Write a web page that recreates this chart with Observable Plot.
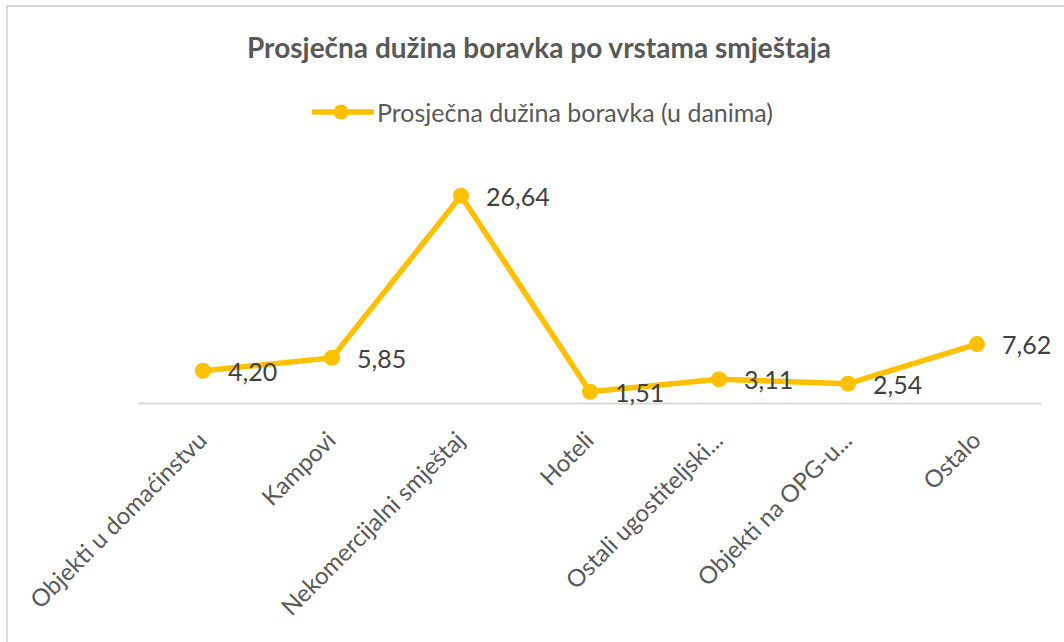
<!DOCTYPE html>
<html>
<head>
<meta charset="utf-8">
<script src="https://cdn.jsdelivr.net/npm/d3@7"></script>
<script src="https://cdn.jsdelivr.net/npm/@observablehq/plot@0.6"></script>
<style>
  html, body { margin: 0; padding: 0; background: #fff; }
  body { width: 1064px; height: 642px; position: relative; overflow: hidden; font-family: Lato, sans-serif; }
  #frame { position: absolute; left: 6px; top: 5px; width: 1100px; height: 700px; border-top: 2px solid #d9d9d9; border-left: 2px solid #d9d9d9; }
  #title { position: absolute; left: 0; width: 1078px; top: 30px; text-align: center; font-size: 28px; font-weight: bold; color: #595959; line-height: 34px; }
  #legend { position: absolute; left: 312px; top: 96px; display: flex; align-items: center; font-size: 25px; color: #595959; line-height: 32px; }
  #legend svg { margin-right: 3px; }
  #chart { position: absolute; left: 0; top: 140px; }
</style>
</head>
<body>
<div id="frame"></div>
<div id="title">Prosječna dužina boravka po vrstama smještaja</div>
<div id="legend"><svg width="62" height="20"><line x1="2" y1="10" x2="60" y2="10" stroke="#FFC000" stroke-width="5.5" stroke-linecap="round"/><circle cx="29" cy="10" r="7.5" fill="#FFC000"/></svg><span>Prosječna dužina boravka (u danima)</span></div>
<div id="chart"></div>
<script>
const categories = ["Objekti u domaćinstvu", "Kampovi", "Nekomercijalni smještaj", "Hoteli", "Ostali ugostiteljski...", "Objekti na OPG-u...", "Ostalo"];
const values = [4.20, 5.85, 26.64, 1.51, 3.11, 2.54, 7.62];
const valueLabels = ["4,20", "5,85", "26,64", "1,51", "3,11", "2,54", "7,62"];

const data = categories.map((c, i) => ({cat: c, v: values[i], label: valueLabels[i]}));
const color = "#FFC000";

const plot = Plot.plot({
  width: 1064,
  height: 502,
  marginLeft: 138,
  marginRight: 23,
  marginTop: 29,
  marginBottom: 239,
  x: {type: "band", domain: categories, padding: 0, label: null},
  y: {domain: [0, 30], axis: null},
  style: {fontFamily: "Lato, sans-serif", fontSize: "24px", color: "#595959", background: "transparent"},
  marks: [
    Plot.ruleY([0], {stroke: "#d9d9d9", strokeWidth: 2}),
    Plot.axisX({tickSize: 0, tickPadding: 33, tickRotate: -45, fontSize: 24, fill: "#595959", label: null}),
    Plot.line(data, {x: "cat", y: "v", stroke: color, strokeWidth: 5.5, strokeLinejoin: "round"}),
    Plot.dot(data, {x: "cat", y: "v", r: 8, fill: color, stroke: null}),
    Plot.text(data, {x: "cat", y: "v", text: "label", textAnchor: "start", dx: 25, dy: 2, fontSize: 25, fill: "#404040"})
  ]
});
document.getElementById("chart").appendChild(plot);
</script>
</body>
</html>
